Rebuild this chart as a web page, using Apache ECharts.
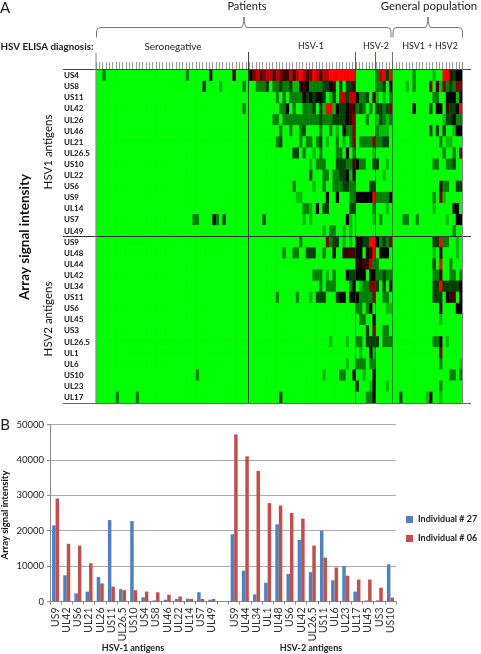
<!DOCTYPE html>
<html><head><meta charset="utf-8">
<script src="https://cdn.jsdelivr.net/npm/echarts@6/dist/echarts.min.js"></script>
<style>html,body{margin:0;padding:0;background:#fff}#c{width:481px;height:654px}</style>
</head><body><div id="c"></div>
<script>
// Heat map: 0 bright green, 4 black, 8 bright red. Ten patients per group, 110 in total.
const hsv1Labels = ['US4','US8','US11','UL42','UL26','UL46','UL21','UL26.5','US10','UL22','US6','US9','UL14','US7','UL49'];
const hsv2Labels = ['US9','UL48','UL44','UL42','UL34','US11','US6','UL45','US3','UL26.5','UL1','UL6','US10','UL23','UL17'];
const hsv1Levels = [
'0020000000 0000000000 0000000200 0000400000 0500004675 6775765575 7875687577 8888888800 0000278380 0000020000 0100885344',
'0000000000 0000000000 0000000000 0030000100 0000200022 2302232231 1454222233 4503033500 0000223040 0001020000 6051623266',
'0000000000 0000000000 0000000000 0000000000 0000000000 0000202022 2243434430 1307737742 2305101020 0000000000 0220044414',
'0000000000 0000000000 0000000000 0000000000 0000200000 0000022402 0022230318 8143345523 2020332360 0000040000 3044053348',
'0000000000 0000000000 0000000000 0000000000 0000000000 0002202222 2222222322 2333345600 0200132120 0000000000 0000133422',
'0000000000 0000000000 0000000000 0000000000 0000000000 0000020020 0230000200 2010422600 0000211100 0000000000 3030300144',
'0000000000 0000000000 0000000000 0000000000 0000000000 0000230000 0202202301 0020102602 2226223300 0000000000 0002011000',
'0000000000 0000000000 0000000000 0000000000 0000000000 0000000003 3020010200 0022040200 0001000000 0000000000 0000200206',
'0000000000 0000000000 0000000000 0000000000 0000000000 0000000000 0000102220 0033322542 2003300100 0000000000 0220022300',
'0000000000 0000000000 0000000000 0000000000 0000000000 0000000000 0000300022 0223341400 0000001000 0000000000 0000000000',
'0000000000 0000000000 0000000000 0000000000 0000000000 0000000002 0000010020 0222332200 0033000000 0000000000 0005220033',
'0000000000 0000000000 0000000000 0000000000 0000000000 0000000000 1100000004 0040002244 4448222240 0000000000 0206100000',
'0000000000 0000000000 0000000000 0000000000 0000000000 0000000000 0022104033 0000003300 0002000100 0000000000 0100000440',
'0000000000 0000000000 0000000002 2000042030 0000000000 3000000000 0010100000 0000041000 0001020000 0022002000 0000010044',
'0000000000 0000000000 0000000000 0000000000 0000000000 0000000000 0000000010 2200101000 0000000000 0000000000 0000000200'
];
const hsv2Levels = [
'0000000000 0000000000 0000000000 0000000000 0000000000 0000000000 0200000006 2330101044 3388423260 0000000000 0338220010',
'0000000000 0000000000 0000000000 0000000000 0000000000 0000002002 2003330020 0400555544 0458044400 0000000000 0104000010',
'0000000000 0000000000 0000000000 0000000000 0000000000 0000000000 0000000000 0000000054 5572200000 0000000000 0308002000',
'0000000000 0000000000 0000000000 0000000000 0000000000 0000000000 0000022201 0200043344 4044223220 0000000000 0225002202',
'0000000000 0000000000 0000000000 0000000000 0000000000 0000000000 0000000202 2200002401 2266303040 0000000000 0338333334',
'0000000000 0000000000 0000000000 0000000000 0000000000 0000200000 2000103330 0034404442 2226002200 0000000000 0333045504',
'0000000000 0000000000 0000000000 0000000000 0000000000 0000000000 0000000000 0000000022 0240000110 0000000000 0005000044',
'0000000000 0000000000 0000000000 0000000000 0000000000 0000000000 0000000000 0000000002 2004000000 0000000000 0001000000',
'0000000000 0000000000 0000000000 0000000000 0000000000 0000000000 0000000000 0000000000 0306002200 0000000000 0000000000',
'0000000000 0000000000 0000000000 0000000000 0000000000 0000000000 0000000000 1000010022 0333302220 0000000000 0224010000',
'0000000000 0000000000 0000000000 0000000000 0000000000 0000000000 0000000000 0000000001 0041000000 0000000000 0006000000',
'0000000000 0000000000 0000000000 0000000000 0000000000 0000000000 0000000000 0000010022 2022000000 0000000000 0002000001',
'0000000000 0000000000 0000000000 2000000000 0000000000 0000000000 0000000010 0002200400 1004000000 0000000000 0000002202',
'0000000000 0000000000 0000000000 0000000000 0000000000 0000000000 0000000000 0000000030 0014000100 0000000000 0002000000',
'0000002000 0020000000 0000000000 0000000000 0000000000 0000030000 0000000000 0000000000 0224000000 0300000001 4001000000'
];
// Bar chart
const barCategories = ['US9','UL42','US6','UL21','UL26','US11','UL26.5','US10','US4','US8','UL46','UL22','UL14','US7','UL49','',
  'US9','UL44','UL34','UL1','UL48','US6','UL42','UL26.5','US11','UL6','UL23','UL17','UL45','US3','US10'];
const individual27 = [21500,7400,2300,2800,6900,23000,3500,22700,1200,300,500,700,800,2600,500,null,
  19000,8700,2000,5300,21800,7800,17400,8300,20000,6000,10000,2800,300,300,10500];
const individual06 = [29100,16300,15800,10800,5100,4200,3200,3200,2800,2600,1900,1400,700,700,700,null,
  47200,41000,36900,27800,27100,25000,23400,15800,12400,9600,7300,6200,6200,3900,1100];

const font = 'Lato, "Open Sans", sans-serif';
const allRows = hsv1Levels.concat(hsv2Levels);
const rowLabels = hsv1Labels.concat(hsv2Labels);
const cells = [];
allRows.forEach((row, y) => {
  Array.from(row.replace(/ /g, '')).forEach((ch, x) => cells.push([x, y, +ch]));
});
const columns = Array.from({length: 110}, (_, i) => String(i));

function txt(x, y, text, size, opts) {
  return {type: 'text', z: 100, x, y,
    style: {text, font: (opts && opts.weight || 'normal') + ' ' + size + 'px ' + font,
      fill: '#222', textAlign: 'center', textVerticalAlign: 'middle'}};
}
function rot(x, y, text, size, weight) {
  return {type: 'text', z: 100, x, y, rotation: Math.PI / 2,
    style: {text, font: weight + ' ' + size + 'px ' + font, fill: '#111', textAlign: 'center', textVerticalAlign: 'middle'}};
}
function line(x1, y1, x2, y2, color, w) {
  return {type: 'line', z: 100, shape: {x1, y1, x2, y2}, style: {stroke: color, lineWidth: w || 1}};
}
function curve(x1, y1, cpx1, cpy1, x2, y2) {
  return {type: 'bezierCurve', z: 100, shape: {x1, y1, cpx1, cpy1, x2, y2},
    style: {fill: null, stroke: '#555', lineWidth: 0.8}};
}
function brace(x1, x2, tip) {
  const t = 27.5, b = 37.5, s = '#555';
  return [
    line(x1, b, x1, t + 4, s, 0.8), curve(x1, t + 4, x1, t, x1 + 4, t),
    line(x1 + 4, t, tip - 3, t, s, 0.8), curve(tip - 3, t, tip - 0.5, t, tip, 17),
    curve(tip, 17, tip + 0.5, t, tip + 3, t), line(tip + 3, t, x2 - 4, t, s, 0.8),
    curve(x2 - 4, t, x2, t, x2, t + 4), line(x2, t + 4, x2, b, s, 0.8)
  ];
}

const chart = echarts.init(document.getElementById('c'), null, {renderer: 'canvas'});
chart.setOption({
  animation: false,
  backgroundColor: '#fff',
  textStyle: {fontFamily: font},
  grid: [
    {left: 96, top: 70, width: 366.7, height: 333},
    {left: 50, top: 424.5, width: 346, height: 177}
  ],
  xAxis: [
    {type: 'category', gridIndex: 0, position: 'top', data: columns, boundaryGap: true,
     axisLine: {show: false}, axisLabel: {show: false}, splitLine: {show: false},
     axisTick: {show: true, interval: 0, length: 8, lineStyle: {color: '#999', width: 1}}},
    {type: 'category', gridIndex: 1, data: barCategories,
     axisLine: {lineStyle: {color: '#888'}},
     axisTick: {show: true, interval: 0, length: 3, lineStyle: {color: '#888'}},
     axisLabel: {interval: 0, rotate: 90, fontSize: 10.5, color: '#333', margin: 6, fontFamily: font}}
  ],
  yAxis: [
    {type: 'category', gridIndex: 0, inverse: true, data: rowLabels,
     axisLine: {show: false}, axisTick: {show: false}, splitLine: {show: false},
     axisLabel: {interval: 0, align: 'left', margin: 32, fontSize: 8, fontWeight: 'bold', color: '#111', fontFamily: font}},
    {type: 'value', gridIndex: 1, min: 0, max: 50000, interval: 10000,
     axisLine: {show: true, lineStyle: {color: '#888'}},
     axisTick: {show: true, length: 3, lineStyle: {color: '#888'}},
     splitLine: {lineStyle: {color: '#aaa', width: 1.2}},
     axisLabel: {fontSize: 9.5, color: '#222', margin: 6, fontFamily: font, formatter: v => String(v)}}
  ],
  visualMap: {show: false, seriesIndex: 0, min: 0, max: 8, dimension: 2,
    inRange: {color: ['#00ff00', '#000000', '#ff0000']}},
  legend: {orient: 'vertical', left: 406, top: 515, padding: 0, itemWidth: 7, itemHeight: 7, itemGap: 10,
    icon: 'rect', data: ['Individual # 27', 'Individual # 06'],
    textStyle: {fontSize: 9, fontWeight: 'bold', color: '#222', fontFamily: font}},
  series: [
    {type: 'heatmap', xAxisIndex: 0, yAxisIndex: 0, data: cells, progressive: 0, silent: true,
     itemStyle: {borderWidth: 0}, emphasis: {disabled: true}},
    {type: 'bar', name: 'Individual # 27', xAxisIndex: 1, yAxisIndex: 1, data: individual27,
     barWidth: 3.5, barGap: 0, itemStyle: {color: '#4f81bd'}},
    {type: 'bar', name: 'Individual # 06', xAxisIndex: 1, yAxisIndex: 1, data: individual06,
     barWidth: 3.5, barGap: 0, itemStyle: {color: '#c0504d'}}
  ],
  graphic: {elements: [
    txt(5, 8, 'A', 15),
    txt(247, 6.5, 'Patients', 11),
    txt(429, 6.5, 'General population', 11.5),
    ...brace(96.5, 391, 244),
    ...brace(393, 462.5, 428),
    txt(47, 46.5, 'HSV ELISA diagnosis:', 9.8, {weight: 'bold'}),
    txt(173, 46.5, 'Seronegative', 10),
    txt(311, 46.5, 'HSV-1', 9),
    txt(376, 46.5, 'HSV-2', 9),
    txt(430, 46.5, 'HSV1 + HSV2', 9),
    line(63, 69.5, 471, 69.5, '#444'),
    line(63, 236.5, 471, 236.5, '#333'),
    line(63, 403.5, 471, 403.5, '#666'),
    line(96, 53, 96, 403, '#888', 1),
    line(248.5, 52, 248.5, 403, '#111', 0.8),
    line(355.5, 52, 355.5, 403, '#154a15', 0.8),
    line(375.5, 52, 375.5, 403, '#154a15', 0.8),
    line(392.5, 52, 392.5, 403, '#2a6a2a', 0.8),
    line(462.5, 62, 462.5, 403, '#888', 1),
    rot(48, 152, 'HSV1 antigens', 11.5, 'normal'),
    rot(48, 319, 'HSV2 antigens', 11.5, 'normal'),
    rot(25, 237, 'Array signal intensity', 13.5, 'bold'),
    txt(5, 425, 'B', 15),
    rot(5, 515, 'Array signal intensity', 9.5, 'bold'),
    txt(133, 648, 'HSV-1 antigens', 9, {weight: 'bold'}),
    txt(311, 648, 'HSV-2 antigens', 9, {weight: 'bold'})
  ]}
});
</script></body></html>
